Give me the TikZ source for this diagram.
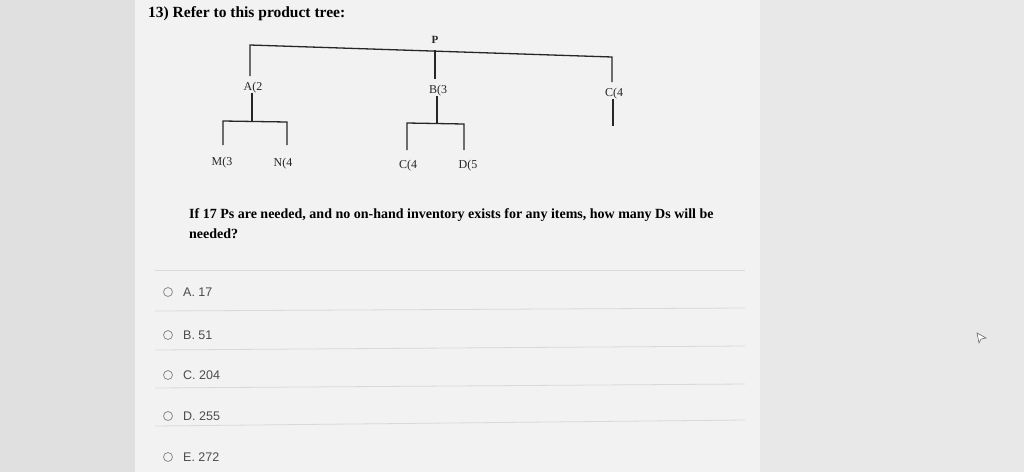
\documentclass[tikz,border=0pt]{standalone}
\usepackage{fontspec}
\setmainfont{Liberation Serif}
\newfontfamily\uifont{Liberation Sans}
\begin{document}
\begin{tikzpicture}[x=1pt,y=-1pt,
  tr/.style={line width=1.3pt,black!85},
  lbl/.style={font=\fontsize{12}{13}\selectfont, inner sep=0pt, text=black!85},
  opt/.style={font=\uifont\fontsize{12.5}{13}\selectfont, inner sep=0pt, anchor=west, text=black!70},
  radio/.style={draw=black!45, line width=0.8pt, circle, minimum size=9pt, inner sep=0pt},
  sep/.style={draw=black!15, line width=0.8pt}]
\useasboundingbox (0,0) rectangle (1024,472);
\fill[black!12] (0,0) rectangle (1024,472);
\fill[black!5] (135,0) rectangle (760,472);
\fill[black!9] (760,0) rectangle (1024,472);
% title
\node[anchor=west, font=\fontsize{15.5}{16}\selectfont\bfseries, inner sep=0pt] (title) at (148,14) {13) Refer to this product tree:};
% tree
\node[lbl,font=\fontsize{11}{12}\selectfont\bfseries] (P) at (435,40) {P};
\node[lbl] (A) at (253,88) {A(2};
\node[lbl] (B) at (438,91) {B(3};
\node[lbl] (C1) at (614,94) {C(4};
\node[lbl] (M) at (222,163) {M(3};
\node[lbl] (N) at (283,164) {N(4};
\node[lbl] (C2) at (408,166) {C(4};
\node[lbl] (D) at (468,166) {D(5};
\draw[tr] (250,76) -- (250,45) -- (612,57) -- (612,82);
\draw[tr] (435,50) -- (435,79);
\draw[tr] (252,93) -- (252,121);
\draw[tr] (223,145) -- (223,121) -- (287,122) -- (287,145);
\draw[tr] (437,96) -- (437,123);
\draw[tr] (407,150) -- (407,123) -- (464,124) -- (464,150);
\draw[tr] (613,99) -- (613,126);
% question
\node[anchor=west, font=\fontsize{14}{15}\selectfont\bfseries, inner sep=0pt] (q1) at (189,215) {If 17 Ps are needed, and no on-hand inventory exists for any items, how many Ds will be};
\node[anchor=west, font=\fontsize{14}{15}\selectfont\bfseries, inner sep=0pt] (q2) at (189,234) {needed?};
% separators
\draw[sep] (155,270) -- (745,270);
\draw[sep] (155,311) -- (745,308);
\draw[sep] (155,350) -- (745,346);
\draw[sep] (155,388) -- (745,384);
\draw[sep] (155,426) -- (745,420);
% options
\node[radio] (r1) at (168,292) {}; \node[opt] (o1) at (183,292) {A. 17};
\node[radio] (r2) at (168,335) {}; \node[opt] (o2) at (183,335) {B. 51};
\node[radio] (r3) at (168,375) {}; \node[opt] (o3) at (183,375) {C. 204};
\node[radio] (r4) at (168,416) {}; \node[opt] (o4) at (183,416) {D. 255};
\node[radio] (r5) at (168,457) {}; \node[opt] (o5) at (183,457) {E. 272};
% cursor
\draw[black!60, fill=white, line width=0.6pt] (977,333) -- (986,338) -- (981,339) -- (979,343) -- cycle;
\end{tikzpicture}
\end{document}
